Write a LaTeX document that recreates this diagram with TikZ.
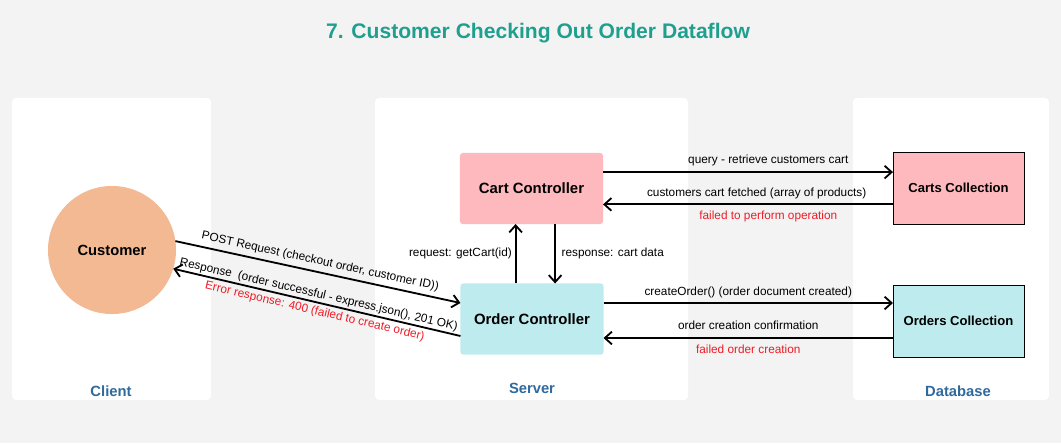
\documentclass[tikz,border=0pt]{standalone}
\usepackage{fontspec}
\setmainfont{Liberation Sans}
\usetikzlibrary{arrows.meta}

\definecolor{bggray}{HTML}{F3F3F3}
\definecolor{titleteal}{HTML}{1FA08E}
\definecolor{zoneblue}{HTML}{2F6A9E}
\definecolor{cartpink}{HTML}{FDB9BD}
\definecolor{ordercyan}{HTML}{BEEBEE}
\definecolor{custpeach}{HTML}{F2B993}
\definecolor{errred}{HTML}{EE1C25}

\begin{document}
\begin{tikzpicture}[
    x=0.025cm,
    y=-0.025cm,
    >={Straight Barb[length=5pt,width=9pt]},
    flow/.style={
        ->,
        line width=1.3pt
    },
    panel/.style={
        fill=white,
        rectangle,
        rounded corners=3pt,
        minimum width=#1,
        minimum height=7.55cm,
        inner sep=0pt
    },
    controller/.style={
        rectangle,
        rounded corners=2pt,
        minimum width=3.575cm,
        minimum height=1.775cm,
        inner sep=0pt,
        outer sep=0pt,
        font=\bfseries\fontsize{10.6}{12}\selectfont
    },
    collection/.style={
        rectangle,
        draw=black,
        line width=0.6pt,
        minimum width=3.275cm,
        minimum height=1.8cm,
        inner sep=0pt,
        outer sep=0pt,
        font=\bfseries\fontsize{9.3}{11}\selectfont
    },
    actor/.style={
        circle,
        fill=custpeach,
        minimum size=3.2cm,
        inner sep=0pt,
        outer sep=0pt,
        font=\bfseries\fontsize{10.5}{12}\selectfont
    },
    zone/.style={
        text=zoneblue,
        font=\bfseries\fontsize{10.5}{12}\selectfont
    },
    lbl/.style={
        font=\fontsize{8.4}{10}\selectfont,
        inner sep=2pt
    },
    err/.style={
        lbl,
        text=errred
    }
]

\fill[bggray] (0,0) rectangle (1061,443);
\useasboundingbox (0,0) rectangle (1061,443);

\node[
    text=titleteal,
    font=\bfseries\fontsize{15}{18}\selectfont
] (title) at (538,33)
    {7. Customer Checking Out Order Dataflow};

% zones
\node[panel=4.975cm] (clientzone) at (111.5,249) {};
\node[panel=7.825cm] (serverzone) at (531.5,249) {};
\node[panel=4.9cm] (dbzone) at (951,249) {};

\node[zone] (clientlbl) at (111,391) {Client};
\node[zone] (serverlbl) at (532,388) {Server};
\node[zone] (dblbl) at (958,391) {Database};

% nodes
\node[actor] (customer) at (112,250) {Customer};

\node[controller, fill=cartpink] (cart) at (531.5,188.5)
    {Cart Controller};

\node[controller, fill=ordercyan] (order) at (532,319)
    {Order Controller};

\node[collection, fill=cartpink] (carts) at (958.5,188)
    {Carts Collection};

\node[collection, fill=ordercyan] (orders) at (958.5,321)
    {Orders Collection};


% client <-> order controller
\draw[flow]
    (customer.8) --
    node[lbl, sloped, above=1pt] {POST Request (checkout order, customer ID))}
    ([yshift=0.4cm]order.west);

\draw[flow]
    ([yshift=-0.425cm]order.west) --
    node[lbl, sloped, above=-1pt] {Response\ \ (order successful - express.json(), 201 OK)}
    node[err, sloped, below=0pt] {Error response: 400 (failed to create order)}
    (customer.-17);

% order controller <-> cart controller
\draw[flow]
    ([xshift=-0.41cm]order.north) --
    node[lbl, left] {request: getCart(id)}
    ([xshift=-0.41cm]order.north |- cart.south);

\draw[flow]
    ([xshift=0.59cm]cart.south) --
    node[lbl, right=2pt] {response: cart data}
    ([xshift=0.59cm]cart.south |- order.north);

% cart controller <-> carts collection
\draw[flow]
    ([yshift=0.41cm]cart.east) --
    node[lbl, pos=0.57, above=2pt] {query - retrieve customers cart}
    ([yshift=0.41cm]cart.east -| carts.west);

\draw[flow]
    ([yshift=-0.41cm]carts.west) --
    node[lbl, pos=0.47, above=1pt] {customers cart fetched (array of products)}
    node[err, pos=0.43, below=2pt] {failed to perform operation}
    ([yshift=-0.41cm]carts.west -| cart.east);

% order controller <-> orders collection
\draw[flow]
    ([yshift=0.4cm]order.east) --
    node[lbl, pos=0.5, above=1pt] {createOrder() (order document created)}
    ([yshift=0.4cm]order.east -| orders.west);

\draw[flow]
    ([yshift=-0.425cm]orders.west) --
    node[lbl, pos=0.5, above=3pt] {order creation confirmation}
    node[err, pos=0.5, below=2pt] {failed order creation}
    ([yshift=-0.425cm]orders.west -| order.east);

\end{tikzpicture}
\end{document}
